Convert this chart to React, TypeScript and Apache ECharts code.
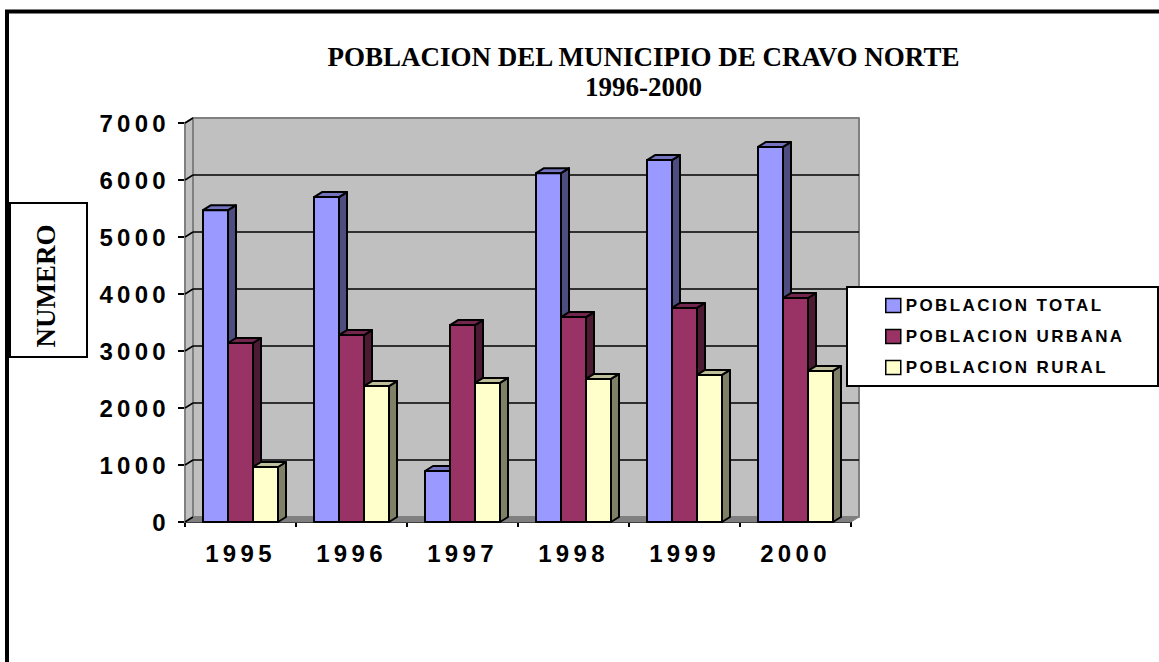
import React, { useEffect, useRef } from "react";
import * as echarts from "echarts";

const categories = ["1995", "1996", "1997", "1998", "1999", "2000"];
const total = [5470, 5700, 895, 6120, 6350, 6580];
const urbana = [3140, 3280, 3455, 3595, 3755, 3930];
const rural = [965, 2385, 2440, 2510, 2580, 2650];
const ticks = [0, 1000, 2000, 3000, 4000, 5000, 6000, 7000];
const titleLines = ["POBLACION DEL MUNICIPIO DE CRAVO NORTE", "1996-2000"];

const DX = 8;
const DY = -5;
const BAR = 25;

function shape(points: number[][], fill: string, stroke = "#000", lineWidth = 2) {
  return { type: "polygon", shape: { points }, style: { fill, stroke, lineWidth, lineJoin: "round" } };
}

function barSeries(name: string, data: number[], index: number, front: string, top: string, side: string) {
  return {
    name,
    type: "custom",
    coordinateSystem: "cartesian2d",
    z: 5,
    itemStyle: { color: front, borderColor: "#000", borderWidth: 1.5 },
    encode: { x: 0, y: 1 },
    data: data.map((v, i) => [categories[i], v]),
    renderItem: (_p: any, api: any) => {
      const [cx, y] = api.coord([api.value(0), api.value(1)]);
      const [, y0] = api.coord([api.value(0), 0]);
      const x0 = cx - 37.5 + index * BAR;
      const x1 = x0 + BAR;
      return {
        type: "group",
        children: [
          shape([[x1, y], [x1 + DX, y + DY], [x1 + DX, y0 + DY], [x1, y0]], side),
          shape([[x0, y], [x0 + DX, y + DY], [x1 + DX, y + DY], [x1, y]], top),
          shape([[x0, y], [x1, y], [x1, y0], [x0, y0]], front),
        ],
      };
    },
  };
}

const wallSeries = {
  type: "custom",
  coordinateSystem: "cartesian2d",
  silent: true,
  z: 1,
  legendHoverLink: false,
  data: ticks.map((t) => [categories[0], t]),
  renderItem: (params: any, api: any) => {
    const yv = api.value(1);
    const [, y] = api.coord([categories[0], yv]);
    const [, y0] = api.coord([categories[0], 0]);
    const [, yt] = api.coord([categories[0], 7000]);
    const r = params.coordSys;
    const xl = r.x;
    const xr = r.x + r.width;
    const children: any[] = [];
    if (params.dataIndex === 0) {
      children.push(shape([[xl, yt], [xl + DX, yt + DY], [xl + DX, y0 + DY], [xl, y0]], "#c0c0c0", "#808080", 2));
      children.push(shape([[xl + DX, yt + DY], [xr + DX, yt + DY], [xr + DX, y0 + DY], [xl + DX, y0 + DY]], "#c0c0c0", "#808080", 2));
      children.push(shape([[xl, y0], [xl + DX, y0 + DY], [xr + DX, y0 + DY], [xr, y0]], "#808080", "#808080", 1));
    }
    if (yv > 0 && yv < 7000) {
      children.push({ type: "line", shape: { x1: xl + DX, y1: y + DY, x2: xr + DX, y2: y + DY }, style: { stroke: "#000", lineWidth: 1.5 } });
    }
    children.push({ type: "line", shape: { x1: xl, y1: y, x2: xl + DX, y2: y + DY }, style: { stroke: "#000", lineWidth: 1.5 } });
    return { type: "group", children };
  },
};

export default function App() {
  const ref = useRef<HTMLDivElement>(null);
  useEffect(() => {
    document.body.style.margin = "0";
    const chart = echarts.init(ref.current!, undefined, { renderer: "svg" });
    chart.setOption({
      animation: false,
      backgroundColor: "#fff",
      title: {
        text: titleLines.join("\n"),
        left: 638.5,
        top: 37,
        textAlign: "center",
        textStyle: { fontFamily: "Liberation Serif", fontWeight: "bold", fontSize: 27, color: "#000", lineHeight: 30 },
      },
      grid: { left: 185, top: 123, width: 666, height: 399, containLabel: false },
      xAxis: {
        type: "category",
        data: categories,
        axisLine: { lineStyle: { color: "#000", width: 2 } },
        axisTick: { show: true, length: 5, lineStyle: { color: "#000", width: 2 } },
        axisLabel: { fontFamily: "Liberation Sans", fontWeight: "bold", fontSize: 24, color: "#000", margin: 19 },
      },
      yAxis: {
        type: "value",
        min: 0,
        max: 7000,
        interval: 1000,
        splitLine: { show: false },
        axisLine: { show: true, lineStyle: { color: "#000", width: 2 } },
        axisTick: { show: true, length: 7, lineStyle: { color: "#000", width: 2 } },
        axisLabel: { fontFamily: "Liberation Sans", fontWeight: "bold", fontSize: 24, color: "#000", margin: 15, formatter: (v: number) => String(v) },
      },
      legend: {
        left: 885,
        top: 297,
        orient: "vertical",
        data: ["POBLACION TOTAL", "POBLACION URBANA", "POBLACION RURAL"],
        padding: 0,
        itemWidth: 15,
        itemHeight: 14,
        itemGap: 14,
        icon: "rect",
        itemStyle: { borderColor: "#000", borderWidth: 1.5 },
        selectedMode: false,
        textStyle: { fontFamily: "Liberation Sans", fontWeight: "bold", fontSize: 17, color: "#000" },
        z: 20,
      },
      graphic: [
        { type: "rect", z: 15, shape: { x: 847, y: 287, width: 311, height: 99 }, style: { fill: "#fff", stroke: "#000", lineWidth: 2 } },
        { type: "rect", z: 30, shape: { x: 7, y: 11.5, width: 1170, height: 670 }, style: { fill: "none", stroke: "#000", lineWidth: 4 } },
        { type: "rect", z: 30, shape: { x: 10, y: 203, width: 77, height: 154 }, style: { fill: "#fff", stroke: "#000", lineWidth: 2 } },
        {
          type: "text", z: 31, x: 46, y: 286, rotation: Math.PI / 2,
          style: { text: "NUMERO", fill: "#000", font: "bold 27px 'Liberation Serif'", align: "center", verticalAlign: "middle" },
        },
      ],
      series: [
        wallSeries,
        barSeries("POBLACION TOTAL", total, 0, "#9999ff", "#7373bf", "#4d4d80"),
        barSeries("POBLACION URBANA", urbana, 1, "#993366", "#73264d", "#4d1a33"),
        barSeries("POBLACION RURAL", rural, 2, "#ffffcc", "#bfbf99", "#808066"),
      ],
    });
    ref.current!.querySelectorAll("text").forEach((t) => {
      const s = t.getAttribute("style") || "";
      if (s.includes("Sans")) {
        t.style.letterSpacing = s.includes("17px") ? "2.4px" : "4.3px";
      }
    });
    return () => chart.dispose();
  }, []);
  return <div ref={ref} style={{ width: 1159, height: 662 }} />;
}
